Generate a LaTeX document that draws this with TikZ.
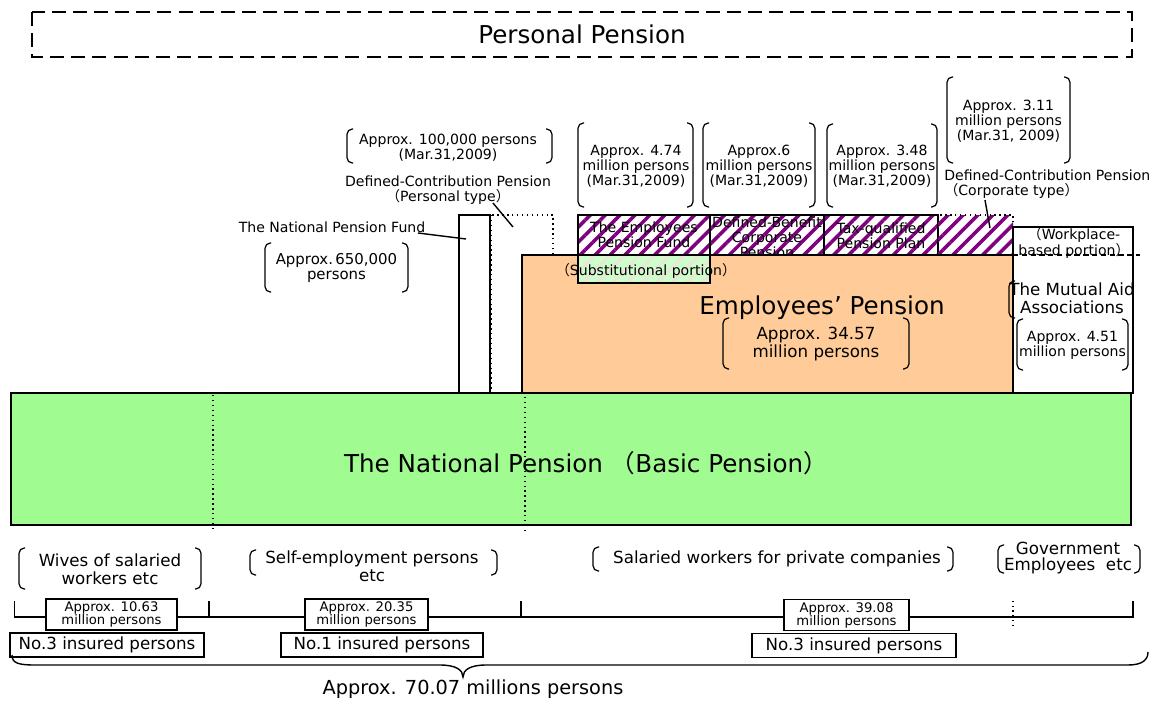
\documentclass[tikz,border=0pt]{standalone}
\usepackage{fontspec}
\setmainfont{DejaVu Sans}
\newfontfamily\cjk{Noto Sans CJK JP}
\usetikzlibrary{patterns.meta}
\newcommand{\fwl}{{\cjk （}}
\newcommand{\fwr}{{\cjk ）}}
\definecolor{npgreen}{RGB}{160,252,144}
\definecolor{eporange}{RGB}{255,204,153}
\definecolor{hatchpurple}{RGB}{128,0,128}
\definecolor{subgreen}{RGB}{204,255,204}
\definecolor{subbeige}{RGB}{232,232,214}
\newcommand{\brkpair}[4]{%
 \draw[brk] (#1+6,#2) -- (#1,#2) -- (#1,#4) -- (#1+6,#4);
 \draw[brk] (#3-6,#2) -- (#3,#2) -- (#3,#4) -- (#3-6,#4);}
\begin{document}
\begin{tikzpicture}[x=0.02cm,y=-0.02cm,
  box/.style={draw, line width=0.8pt},
  brk/.style={line width=0.7pt, rounded corners=3pt},
  txt/.style={inner sep=0pt, align=center},
  big/.style={txt, font=\fontsize{14}{16}\selectfont},
  med/.style={txt, font=\fontsize{9.5}{10.2}\selectfont},
  sm/.style={txt, font=\fontsize{8}{8.5}\selectfont},
  tiny/.style={txt, font=\fontsize{7.5}{7.4}\selectfont},
  hatch/.style={pattern={Lines[angle=45,distance=6pt,line width=2pt]}, pattern color=hatchpurple},
  leader/.style={line width=0.8pt},
  valbox/.style={tiny, draw, fill=white, line width=0.8pt, minimum height=0.62cm},
  catbox/.style={med, draw, fill=white, line width=0.8pt, minimum height=0.48cm}]
\useasboundingbox (0,0) rectangle (1161,701);

% personal pension
\draw[line width=1.2pt, dash pattern=on 8pt off 4pt] (32,12) rectangle (1132,57);
\node[big] (pp) at (582,34) {Personal Pension};

% second-tier columns
\draw[dotted, line width=0.8pt] (491,215) rectangle (553,393);
\draw[box, fill=white] (459,215) rectangle (490,393);
\draw[box, hatch] (578,215) rectangle (710,255);
\draw[box, hatch] (710,215) rectangle (824,255);
\draw[box, hatch] (824,215) rectangle (938,255);
\fill[hatch] (938,215) rectangle (1013,255);
\draw[dotted, line width=0.8pt] (938,215) rectangle (1013,255);
\node[sm] (epf) at (644,234.5) {The Employees\\Pension Fund};
\node[sm] (dbc) at (767,237) {Defined-Benefit\\Corporate\\Pension};
\node[sm] (tqp) at (881,236) {Tax-qualified\\Pension Plan};

% employees' pension
\draw[box, fill=eporange] (522,255) rectangle (1013,393);
\fill[subgreen] (578,255) rectangle (710,283);
\fill[pattern={Lines[angle=45,distance=6pt,line width=2pt]}, pattern color=subbeige] (578,255) rectangle (710,283);
\draw[box] (578,255) rectangle (710,283);
\node[sm] (sub) at (646,271) {\fwl Substitutional portion\fwr};
\node[big] (ep) at (822,308) {Employees’ Pension};
\node[med] (ep3457) at (816,344) {Approx. 34.57\\million persons};
\brkpair{723}{318}{909}{369}

% mutual aid
\draw[box, fill=white] (1013,227) rectangle (1133,393);
\draw[line width=0.7pt, dash pattern=on 3pt off 2pt] (1013,255) -- (1140,255);
\node[sm] (wp) at (1074,243) {\fwl Workplace-\\based portion\fwr};
\node[med] (mut) at (1072,298) {The Mutual Aid\\Associations};
\draw[brk] (1015,281) -- (1009,281) -- (1009,318) -- (1015,318);
\node[sm] (mut451) at (1072.5,345) {Approx. 4.51\\million persons};
\brkpair{1017}{319}{1128}{370}

% national pension
\draw[box, fill=npgreen] (11,393) rectangle (1131,525);
\draw[dotted, line width=0.8pt] (213,395) -- (213,530);
\draw[dotted, line width=0.8pt] (525,397) -- (525,532);
\node[big] (np) at (586,463) {The National Pension \fwl Basic Pension\fwr};

% labels above
\node[sm, font=\fontsize{8}{7.6}\selectfont] (dcp100) at (448,148) {Approx. 100,000 persons\\(Mar.31,2009)};
\brkpair{347}{129}{552}{163}
\node[sm] (dcpl) at (448,190.5) {Defined-Contribution Pension\\\fwl Personal type\fwr};
\coordinate (dcpA) at (493,203);
\coordinate (dcpB) at (513,227);
\draw[leader] (dcpA) -- (dcpB);
\node[sm] (npf) at (332,227) {The National Pension Fund};
\coordinate (npfA) at (418,233);
\coordinate (npfB) at (466,239);
\draw[leader] (npfA) -- (npfB);
\node[txt, font=\fontsize{8.5}{9}\selectfont] (npf650) at (336.5,268) {Approx.\,650,000\\persons};
\brkpair{265}{243}{408}{292}

\node[sm] (epfn) at (636,166) {Approx. 4.74\\million persons\\(Mar.31,2009)};
\brkpair{578}{123}{693}{207}
\node[sm] (dbcn) at (759,166) {Approx.6\\million persons\\(Mar.31,2009)};
\brkpair{703}{123}{815}{207}
\node[sm] (tqpn) at (882,166) {Approx. 3.48\\million persons\\(Mar.31,2009)};
\brkpair{827}{124}{937}{207}
\node[sm] (dccn) at (1008.5,121.5) {Approx. 3.11\\million persons\\(Mar.31, 2009)};
\brkpair{947}{77}{1070}{163}
\node[sm, align=left, anchor=west] (dccl) at (944,184.5) {Defined-Contribution Pension\\\fwl Corporate type\fwr};
\coordinate (dccA) at (985,200);
\coordinate (dccB) at (990,228);
\draw[leader] (dccA) -- (dccB);

% categories
\node[med] (wives) at (110,569) {Wives of salaried\\workers etc};
\brkpair{19}{548}{201}{589}
\node[med] (self) at (372,566) {Self-employment persons\\etc};
\brkpair{250}{550}{497}{575}
\node[med] (sal) at (777,559) {Salaried workers for private companies};
\brkpair{593}{547}{953}{571}
\node[med, font=\fontsize{9.5}{9.2}\selectfont] (gov) at (1068,558) {Government\\Employees\ \ etc};
\brkpair{998}{545}{1140}{573}

% scale line
\draw[line width=0.8pt] (14.5,601) -- (14.5,617) -- (1133,617) -- (1133,601);
\draw[line width=0.8pt] (209,601) -- (209,617);
\draw[line width=0.8pt] (521,601) -- (521,617);
\draw[dotted, line width=0.7pt] (1013,601) -- (1013,626);
\node[valbox, minimum width=2.62cm] (v1) at (111.5,614.5) {Approx. 10.63\\million persons};
\node[valbox, minimum width=2.46cm] (v2) at (366.5,614.5) {Approx. 20.35\\million persons};
\node[valbox, minimum width=2.5cm] (v3) at (846.5,615) {Approx. 39.08\\million persons};
\node[catbox, minimum width=3.88cm] (c1) at (107,645) {No.3 insured persons};
\node[catbox, minimum width=4.04cm] (c2) at (382,645) {No.1 insured persons};
\node[catbox, minimum width=4.08cm] (c3) at (854,645.5) {No.3 insured persons};

% brace and total
\draw[line width=0.8pt] (12,655) .. controls (12,663) and (18,665) .. (35,665) -- (440,665) .. controls (456,665) and (463,670) .. (463,677) .. controls (463,670) and (470,665) .. (486,665) -- (1128,665) .. controls (1142,665) and (1148,660) .. (1148,652);
\node[txt, font=\fontsize{11}{12}\selectfont] (tot) at (473,689) {Approx. 70.07 millions persons};
\end{tikzpicture}
\end{document}
